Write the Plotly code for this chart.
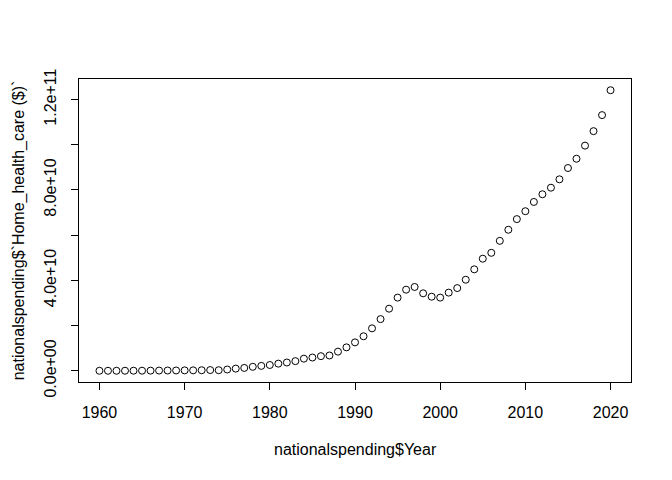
import plotly.graph_objects as go

years = list(range(1960, 2021))
# Home health care spending, billions of dollars
spending_billion = [
    0.04, 0.05, 0.05, 0.06, 0.07, 0.08, 0.10, 0.13, 0.16, 0.18,  # 1960-1969
    0.22, 0.24, 0.28, 0.36, 0.3, 0.6, 1.0, 1.3, 1.8, 2.2,         # 1970-1979
    2.6, 3.2, 3.7, 4.3, 5.4, 5.9, 6.5, 6.8, 8.5, 10.4,            # 1980-1989
    12.6, 15.3, 18.8, 22.9, 27.5, 32.4, 35.9, 37.1, 34.3, 32.8,   # 1990-1999
    32.4, 34.6, 36.6, 40.3, 44.9, 49.6, 52.2, 57.5, 62.4, 67.1,   # 2000-2009
    70.6, 74.7, 78.1, 81.0, 84.7, 89.7, 93.8, 99.6, 106.0, 113.1, # 2010-2019
    124.1,                                                        # 2020
]
spending = [v * 1e9 for v in spending_billion]

y_tick_vals = [0, 2e10, 4e10, 6e10, 8e10, 1e11, 1.2e11]
y_tick_text = ["0.0e+00", "", "4.0e+10", "", "8.0e+10", "", "1.2e+11"]
x_tick_vals = [1960, 1970, 1980, 1990, 2000, 2010, 2020]

xmin, xmax = min(years), max(years)
ymin, ymax = min(spending), max(spending)
xpad = 0.04 * (xmax - xmin)
ypad = 0.04 * (ymax - ymin)

font = dict(family="Liberation Sans, Arial, Helvetica, sans-serif", size=16, color="black")

fig = go.Figure(
    go.Scatter(
        x=years, y=spending, mode="markers",
        marker=dict(symbol="circle-open", size=7, color="black", line=dict(width=1, color="black")),
        hoverinfo="x+y",
    )
)

fig.update_layout(
    width=672, height=480,
    margin=dict(l=79, r=41, t=79, b=98, autoexpand=False),
    paper_bgcolor="white", plot_bgcolor="white",
    font=font, showlegend=False,
    xaxis=dict(
        range=[xmin - xpad, xmax + xpad], tickvals=x_tick_vals,
        ticks="outside", ticklen=7, tickwidth=1, tickcolor="black",
        showline=True, linecolor="black", linewidth=1, mirror=True,
        showgrid=False, zeroline=False, ticklabelstandoff=9,
        tickfont=font,
    ),
    yaxis=dict(
        range=[ymin - ypad, ymax + ypad], tickvals=y_tick_vals, ticktext=y_tick_text,
        tickangle=-90,
        ticks="outside", ticklen=7, tickwidth=1, tickcolor="black",
        showline=True, linecolor="black", linewidth=1, mirror=True,
        showgrid=False, zeroline=False, ticklabelstandoff=9,
        tickfont=font,
    ),
    annotations=[
        dict(text="nationalspending$Year", xref="paper", yref="paper",
             x=0.5, y=-0.224, yanchor="middle", xanchor="center",
             showarrow=False, font=font),
        dict(text="nationalspending$`Home_health_care ($)`", xref="paper", yref="paper",
             x=-0.109, y=0.5, xanchor="center", yanchor="middle", textangle=-90,
             showarrow=False, font=font),
    ],
)

fig.write_html("out.html", config={"displayModeBar": False},
               post_script="document.body.style.margin='0';")
